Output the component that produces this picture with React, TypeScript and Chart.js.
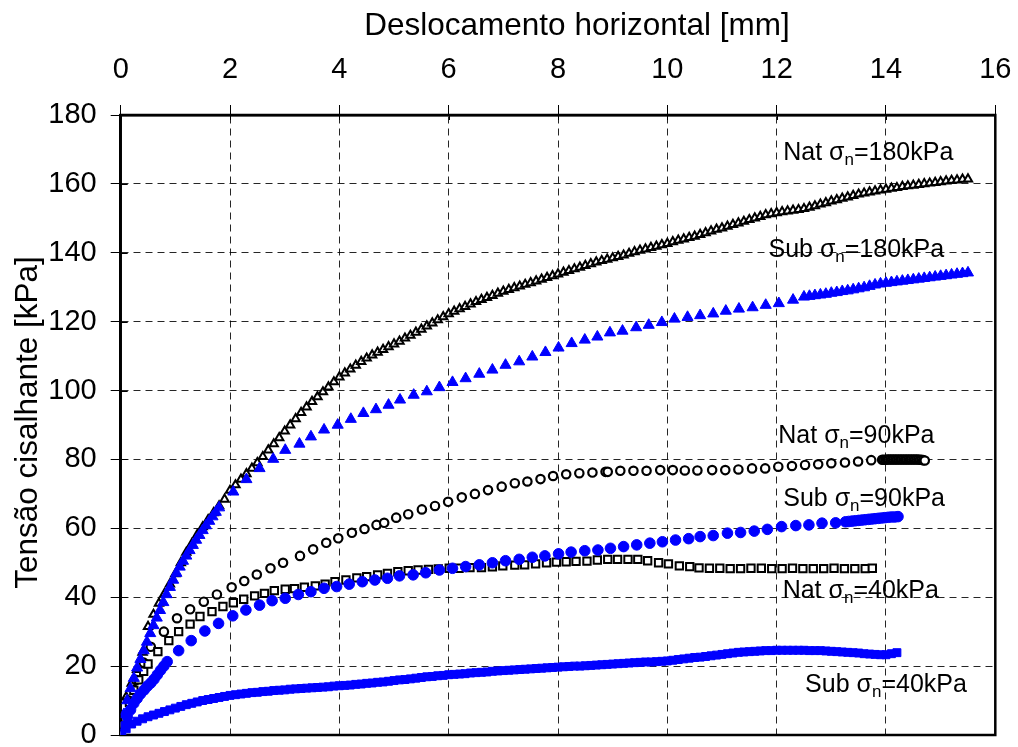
import React, { useEffect, useRef } from 'react';
import { Chart, registerables } from 'chart.js';

Chart.register(...registerables);

const FONT = '"Liberation Sans", Arial, Helvetica, sans-serif';

// ---------- data (displacement mm, shear stress kPa) ----------
const xTitle = 'Deslocamento horizontal [mm]';
const yTitle = 'Tensão cisalhante [kPa]';
const xRange = [0, 16];
const yRange = [0, 180];
const xStep = 2;
const yStep = 20;

const nat180: [number, number][] = [
  [0,0],[0.1,11],[0.2,15],[0.3,19],[0.4,24],[0.5,31.5],[0.6,35],[0.7,38.2],[0.8,41],[0.9,43.8],
  [1,46.8],[1.1,50],[1.2,53],[1.3,55.5],[1.4,58.1],[1.5,60.4],[1.6,62.5],[1.7,64.5],[1.8,66.5],[1.9,68.4],
  [2,71],[2.1,72.6],[2.2,74.2],[2.3,75.8],[2.4,77.4],[2.5,79],[2.6,80.8],[2.7,82.7],[2.8,84.5],[2.9,86.3],
  [3,88.2],[3.1,90],[3.2,91.8],[3.3,93.6],[3.4,95.2],[3.5,96.8],[3.6,98.2],[3.7,99.6],[3.8,101],[3.9,102.5],
  [4,103.9],[4.1,105.1],[4.2,106.2],[4.3,107.3],[4.4,108.4],[4.5,109.4],[4.6,110.3],[4.7,111.1],[4.8,111.9],[4.9,112.7],
  [5,113.5],[5.1,114.3],[5.2,115.2],[5.3,116],[5.4,116.9],[5.5,117.8],[5.6,118.7],[5.7,119.6],[5.8,120.5],[5.9,121.4],
  [6,122.3],[6.1,123],[6.2,123.7],[6.3,124.4],[6.4,125.1],[6.5,125.8],[6.6,126.4],[6.7,127],[6.8,127.6],[6.9,128.2],
  [7,128.8],[7.1,129.3],[7.2,129.8],[7.3,130.3],[7.4,130.8],[7.5,131.3],[7.6,131.8],[7.7,132.3],[7.8,132.8],[7.9,133.3],
  [8,133.8],[8.1,134.3],[8.2,134.8],[8.3,135.3],[8.4,135.8],[8.5,136.3],[8.6,136.8],[8.7,137.3],[8.8,137.7],[8.9,138.1],
  [9,138.5],[9.1,138.9],[9.2,139.3],[9.3,139.8],[9.4,140.3],[9.5,140.7],[9.6,141.1],[9.7,141.5],[9.8,141.9],[9.9,142.3],
  [10,142.7],[10.1,143.2],[10.2,143.6],[10.3,144],[10.4,144.4],[10.5,144.8],[10.6,145.3],[10.7,145.8],[10.8,146.3],[10.9,146.8],
  [11,147.2],[11.1,147.7],[11.2,148.2],[11.3,148.6],[11.4,149.1],[11.5,149.6],[11.6,150.1],[11.7,150.5],[11.8,151],[11.9,151.3],
  [12,151.6],[12.1,151.9],[12.2,152.1],[12.3,152.3],[12.4,152.5],[12.5,152.8],[12.6,153.2],[12.7,153.6],[12.8,154.1],[12.9,154.5],
  [13,155],[13.1,155.4],[13.2,155.8],[13.3,156.2],[13.4,156.6],[13.5,157],[13.6,157.3],[13.7,157.6],[13.8,157.9],[13.9,158.2],
  [14,158.4],[14.1,158.7],[14.2,158.9],[14.3,159.2],[14.4,159.4],[14.5,159.6],[14.6,159.8],[14.7,160],[14.8,160.2],[14.9,160.4],
  [15,160.6],[15.1,160.8],[15.2,161],[15.3,161.1],[15.4,161.3],[15.5,161.4],
];

const sub180: [number, number][] = [
  [0,0],[0.06,6],[0.12,10],[0.18,13.5],[0.24,16.5],[0.3,19.5],[0.36,22],[0.42,24.5],[0.48,27],[0.54,29.5],
  [0.6,31.8],[0.66,34],[0.72,36.2],[0.78,38.5],[0.84,40.8],[0.9,42.9],[0.96,45],[1.02,47],[1.08,48.8],[1.14,50.5],
  [1.2,52],[1.26,53.6],[1.32,55.1],[1.38,56.6],[1.44,58],[1.5,59.4],[1.56,60.8],[1.62,62.1],[1.68,63.4],[1.74,64.7],[1.8,66],
  [2.06,70.6],[2.3,74.2],[2.54,77.4],[2.79,80.1],[3.01,82.7],[3.27,84.5],[3.48,86.6],[3.72,88.6],[3.97,90],[4.21,91.7],
  [4.44,93.4],[4.67,94.5],[4.9,95.8],[5.11,97.3],[5.36,98.7],[5.6,99.7],[5.83,100.9],[6.07,102.4],[6.31,103.5],[6.56,104.8],
  [6.8,106],[7.04,107.4],[7.29,108.4],[7.53,109.8],[7.77,111.1],[8.01,112.4],[8.25,113.7],[8.49,114.7],[8.72,115.6],[8.95,116.8],
  [9.18,117.3],[9.43,118.3],[9.66,119],[9.9,119.8],[10.13,120.8],[10.37,121.3],[10.6,121.8],[10.84,122.3],[11.07,123.1],[11.31,123.7],
  [11.56,124.1],[11.8,124.8],[12.04,125.3],[12.3,126.3],
  [12.5,127.2],[12.6,127.4],[12.7,127.6],[12.8,127.8],[12.9,128],[13,128.3],[13.1,128.5],[13.2,128.8],[13.3,129],[13.4,129.3],
  [13.5,129.6],[13.6,129.9],[13.7,130.3],[13.8,130.7],[13.9,131],[14,131.2],[14.1,131.4],[14.2,131.6],[14.3,131.8],[14.4,132],
  [14.5,132.2],[14.6,132.4],[14.7,132.6],[14.8,132.8],[14.9,133],[15,133.2],[15.1,133.4],[15.2,133.6],[15.3,133.8],[15.4,134],[15.5,134.2],
];

const nat90: [number, number][] = [
  [0,0],[0.05,3],[0.15,10],[0.28,16],[0.42,21],[0.55,25.6],[0.79,30],[1.03,33.9],[1.27,36.5],[1.52,38.7],
  [1.76,40.8],[2.03,42.9],[2.26,44.7],[2.49,46.6],[2.74,48.4],[2.97,50],[3.28,52],[3.52,53.9],[3.76,55.8],[3.98,57.1],
  [4.23,58.7],[4.46,59.8],[4.68,61],[4.82,61.6],[5.04,63.1],[5.26,64.1],[5.51,65.5],[5.75,66.5],[5.99,67.7],[6.24,69],
  [6.48,70],[6.72,71.1],[6.97,72.1],[7.21,73.1],[7.44,73.6],[7.68,74.3],[7.91,75.2],[8.15,75.7],[8.39,76],[8.63,76.2],
  [8.87,76.4],[8.91,76.4],[9.14,76.7],[9.38,76.7],[9.62,76.7],[9.87,76.9],[10.1,76.9],[10.32,76.8],[10.55,76.8],[10.82,76.9],
  [11.06,76.9],[11.3,77.1],[11.55,77.4],[11.79,77.4],[12.03,77.9],[12.28,78.1],[12.52,78.4],[12.76,78.6],[13,78.9],[13.25,79.1],
  [13.49,79.4],[13.73,79.8],[13.93,79.9],[13.96,79.9],[13.99,79.9],[14.02,80],[14.05,80],[14.08,80],[14.11,80],[14.14,80],
  [14.17,80],[14.2,80],[14.23,80],[14.26,80],[14.29,80],[14.32,80],[14.35,80],[14.38,80],[14.41,80],[14.44,80],
  [14.47,80],[14.5,80],[14.53,80],[14.56,80],[14.59,80],[14.62,79.9],[14.65,79.9],[14.68,79.8],[14.71,79.7],
];

const sub90: [number, number][] = [
  [0,0],[0.06,2.5],[0.12,5.3],[0.18,7.3],[0.24,9.2],[0.3,10.6],[0.36,11.9],[0.43,13.1],[0.49,14.2],[0.55,15.1],
  [0.61,16.2],[0.67,17.5],[0.73,18.8],[0.79,20],[0.85,21.3],
  [1.06,24.5],[1.29,27.4],[1.54,30.2],[1.79,32.4],[2.05,34.6],[2.29,36.3],[2.54,37.7],[2.77,39],[3.01,39.7],[3.25,40.8],
  [3.48,41.6],[3.72,42.6],[3.95,43.1],[4.18,43.8],[4.42,44.5],[4.65,45],[4.88,45.5],[5.1,46.2],[5.35,46.5],[5.58,47.1],
  [5.83,47.9],[6.07,48.4],[6.31,48.9],[6.56,49.4],[6.8,50],[7.04,50.6],[7.29,51],[7.53,51.6],[7.76,52],[8.01,52.6],
  [8.24,53.1],[8.49,53.5],[8.73,53.7],[8.96,54.2],[9.2,54.7],[9.44,55.2],[9.68,55.7],[9.91,56.1],[10.15,56.6],[10.39,57],
  [10.6,57.6],[10.84,57.9],[11.1,58.6],[11.34,58.8],[11.59,59.2],[11.83,59.7],[12.09,60.5],[12.35,60.8],[12.59,61],[12.83,61.5],
  [13.08,61.6],[13.26,61.9],[13.32,62],[13.38,62.1],[13.44,62.2],[13.5,62.3],[13.56,62.4],[13.62,62.5],[13.68,62.6],[13.74,62.7],
  [13.8,62.8],[13.86,62.9],[13.92,63],[13.98,63.1],[14.04,63.2],[14.1,63.3],[14.16,63.3],[14.22,63.4],
];

const nat40: [number, number][] = [
  [0,0],[0.08,5],[0.16,9.5],[0.24,13],[0.33,16],[0.42,18.5],[0.5,20.6],[0.68,24.2],[0.88,27.4],[1.06,30],
  [1.27,32.2],[1.45,34.4],[1.67,35.8],[1.87,37.3],[2.06,38.4],[2.25,39.4],[2.45,40.4],[2.63,41.1],[2.81,41.9],[3.01,42.3],
  [3.18,42.5],[3.36,42.9],[3.56,43.3],[3.74,43.8],[3.92,44.5],[4.12,45],[4.32,45.6],[4.5,46],[4.7,46.5],[4.88,46.9],
  [5.07,47.4],[5.26,47.7],[5.44,47.9],[5.63,48.1],[5.81,48.2],[6.01,48.4],[6.19,48.4],[6.39,48.6],[6.6,48.6],[6.8,48.8],
  [6.99,49.1],[7.21,49.3],[7.39,49.4],[7.59,49.7],[7.79,50],[7.97,50.2],[8.15,50.3],[8.33,50.4],[8.53,50.5],[8.72,50.8],
  [8.91,51],[9.09,51],[9.28,51],[9.46,51],[9.64,50.6],[9.84,50],[10.02,49.7],[10.22,49.1],[10.41,48.9],[10.58,48.5],
  [10.77,48.4],[10.96,48.4],[11.15,48.3],[11.34,48.3],[11.53,48.4],[11.72,48.4],[11.91,48.3],[12.1,48.3],[12.29,48.4],[12.48,48.3],
  [12.67,48.3],[12.86,48.3],[13.05,48.4],[13.24,48.3],[13.43,48.3],[13.62,48.3],[13.75,48.4],
];

const sub40: [number, number][] = [
  [0,0],[0.1,1.8],[0.2,3.2],[0.3,4],[0.4,4.7],[0.5,5.3],[0.6,5.8],[0.7,6.3],[0.8,6.8],[0.9,7.3],
  [1,7.8],[1.1,8.3],[1.2,8.8],[1.3,9.2],[1.4,9.6],[1.5,10],[1.6,10.3],[1.7,10.6],[1.8,10.9],[1.9,11.2],
  [2,11.5],[2.1,11.7],[2.2,11.9],[2.3,12.1],[2.4,12.3],[2.5,12.4],[2.6,12.6],[2.7,12.7],[2.8,12.9],[2.9,13],
  [3,13.1],[3.1,13.3],[3.2,13.4],[3.3,13.5],[3.4,13.6],[3.5,13.7],[3.6,13.8],[3.7,13.9],[3.8,14],[3.9,14.2],
  [4,14.3],[4.1,14.4],[4.2,14.5],[4.3,14.7],[4.4,14.8],[4.5,15],[4.6,15.1],[4.7,15.3],[4.8,15.4],[4.9,15.6],
  [5,15.8],[5.1,16],[5.2,16.1],[5.3,16.3],[5.4,16.5],[5.5,16.7],[5.6,16.9],[5.7,17],[5.8,17.2],[5.9,17.3],
  [6,17.5],[6.1,17.6],[6.2,17.7],[6.3,17.8],[6.4,18],[6.5,18.1],[6.6,18.2],[6.7,18.3],[6.8,18.5],[6.9,18.6],
  [7,18.7],[7.1,18.8],[7.2,18.9],[7.3,19],[7.4,19.1],[7.5,19.2],[7.6,19.3],[7.7,19.4],[7.8,19.5],[7.9,19.6],
  [8,19.7],[8.1,19.8],[8.2,19.9],[8.3,20],[8.4,20],[8.5,20.1],[8.6,20.2],[8.7,20.3],[8.8,20.4],[8.9,20.5],
  [9,20.6],[9.1,20.7],[9.2,20.8],[9.3,20.9],[9.4,21],[9.5,21.1],[9.6,21.2],[9.7,21.2],[9.8,21.3],[9.9,21.4],
  [10,21.5],[10.1,21.7],[10.2,21.9],[10.3,22.1],[10.4,22.3],[10.5,22.5],[10.6,22.6],[10.7,22.8],[10.8,23],[10.9,23.2],
  [11,23.4],[11.1,23.6],[11.2,23.8],[11.3,24],[11.4,24.1],[11.5,24.2],[11.6,24.3],[11.7,24.4],[11.8,24.5],[11.9,24.5],
  [12,24.6],[12.1,24.6],[12.2,24.6],[12.3,24.6],[12.4,24.6],[12.5,24.6],[12.6,24.5],[12.7,24.5],[12.8,24.5],[12.9,24.4],
  [13,24.3],[13.1,24.2],[13.2,24.1],[13.3,24],[13.4,23.9],[13.5,23.8],[13.6,23.6],[13.7,23.5],[13.8,23.4],[13.9,23.3],
  [14,23.3],[14.1,23.6],[14.2,23.9],
];

// series annotations: prefix + subscript + suffix
const labelTexts = [
  ['Nat σ', 'n', '=180kPa'],
  ['Sub σ', 'n', '=180kPa'],
  ['Nat σ', 'n', '=90kPa'],
  ['Sub σ', 'n', '=90kPa'],
  ['Nat σ', 'n', '=40kPa'],
  ['Sub σ', 'n', '=40kPa'],
];

// ---------- layout / style ----------
const W = 1018;
const H = 747;
const AREA = { left: 120.7, top: 115, right: 995.3, bottom: 735 };
const labelAnchors = [
  { x: 12.12, y: 166.9 },
  { x: 11.85, y: 138.9 },
  { x: 12.03, y: 84.7 },
  { x: 12.12, y: 66.5 },
  { x: 12.11, y: 39.7 },
  { x: 12.52, y: 12.6 },
];

const toXY = (arr: [number, number][]) => arr.map(([x, y]) => ({ x, y }));

const decorPlugin = {
  id: 'decor',
  beforeDatasetsDraw(chart: any) {
    const { ctx, chartArea: a, scales } = chart;
    ctx.save();
    ctx.strokeStyle = '#000';
    ctx.lineWidth = 1;
    ctx.beginPath();
    for (let v = yRange[0]; v <= yRange[1]; v += yStep) {
      const py = Math.round(scales.y.getPixelForValue(v)) + 0.5;
      ctx.moveTo(a.left, py);
      ctx.lineTo(a.left + 7, py);
    }
    for (let v = xRange[0]; v <= xRange[1]; v += xStep) {
      const px = Math.round(scales.x.getPixelForValue(v)) + 0.5;
      ctx.moveTo(px, a.top);
      ctx.lineTo(px, a.top + 5);
    }
    ctx.stroke();
    ctx.lineWidth = 2.5;
    ctx.strokeRect(a.left, a.top, a.right - a.left, a.bottom - a.top);
    ctx.restore();
  },
  afterDatasetsDraw(chart: any) {
    const { ctx, scales } = chart;
    ctx.save();
    ctx.fillStyle = '#000';
    ctx.textAlign = 'left';
    ctx.textBaseline = 'alphabetic';
    labelTexts.forEach((t, i) => {
      const x = scales.x.getPixelForValue(labelAnchors[i].x);
      const y = scales.y.getPixelForValue(labelAnchors[i].y);
      ctx.font = `25px ${FONT}`;
      ctx.fillText(t[0], x, y);
      let w = ctx.measureText(t[0]).width;
      ctx.font = `17px ${FONT}`;
      ctx.fillText(t[1], x + w, y + 5);
      w += ctx.measureText(t[1]).width;
      ctx.font = `25px ${FONT}`;
      ctx.fillText(t[2], x + w, y);
    });
    // axis titles
    ctx.font = `31.5px ${FONT}`;
    ctx.textAlign = 'center';
    ctx.fillText(xTitle, 577, 35);
    ctx.translate(37, 422.5);
    ctx.rotate(-Math.PI / 2);
    ctx.fillText(yTitle, 0, 0);
    ctx.restore();
  },
};

const openStyle = { backgroundColor: '#ffffff', borderColor: '#000000' };
const blueStyle = { backgroundColor: '#0000ff', borderColor: '#0000ff' };

export default function App() {
  const ref = useRef<HTMLCanvasElement>(null);
  useEffect(() => {
    document.body.style.margin = '0';
    const chart = new Chart(ref.current as HTMLCanvasElement, {
      type: 'scatter',
      data: {
        datasets: [
          { label: 'Sub σn=40kPa', data: toXY(sub40), pointStyle: 'rect', pointRadius: 5.6, borderWidth: 1, ...blueStyle, order: 0 },
          { label: 'Sub σn=90kPa', data: toXY(sub90), pointStyle: 'circle', pointRadius: 5.3, borderWidth: 1, ...blueStyle, order: 0 },
          { label: 'Sub σn=180kPa', data: toXY(sub180), pointStyle: 'triangle', pointRadius: 6.4, borderWidth: 1, ...blueStyle, order: 0 },
          { label: 'Nat σn=40kPa', data: toXY(nat40), pointStyle: 'rect', pointRadius: 5.2, borderWidth: 2, ...openStyle, order: 1 },
          { label: 'Nat σn=90kPa', data: toXY(nat90), pointStyle: 'circle', pointRadius: 4.2, borderWidth: 2.2, ...openStyle, order: 1 },
          { label: 'Nat σn=180kPa', data: toXY(nat180), pointStyle: 'triangle', pointRadius: 4.8, borderWidth: 2, ...openStyle, order: 1 },
        ] as any,
      },
      options: {
        animation: false,
        responsive: false,
        devicePixelRatio: 1,
        layout: { autoPadding: false, padding: { left: 0, top: 0, right: W - AREA.right, bottom: H - AREA.bottom } },
        plugins: { legend: { display: false }, tooltip: { enabled: false } },
        elements: { point: { hoverRadius: 0 } },
        scales: {
          x: {
            type: 'linear',
            position: 'top',
            min: xRange[0],
            max: xRange[1],
            afterFit: (s: any) => { s.height = AREA.top; s.paddingLeft = 0; s.paddingRight = 0; },
            ticks: { stepSize: xStep, autoSkip: false, maxRotation: 0, color: '#000', padding: 18, font: { family: FONT, size: 29 } },
            grid: { color: 'rgba(0,0,0,0.85)', lineWidth: 1, tickLength: 10, tickColor: '#000', tickWidth: 1, tickBorderDash: [] },
            border: { display: true, color: '#000', width: 2.5, dash: [7, 5] },
          },
          y: {
            type: 'linear',
            position: 'left',
            min: yRange[0],
            max: yRange[1],
            afterFit: (s: any) => { s.width = AREA.left; s.paddingTop = 0; s.paddingBottom = 0; },
            ticks: { stepSize: yStep, autoSkip: false, color: '#000', padding: 14, font: { family: FONT, size: 29, lineHeight: 0.8 } },
            grid: { color: 'rgba(0,0,0,0.85)', lineWidth: 1, tickLength: 10, tickColor: '#000', tickWidth: 1, tickBorderDash: [] },
            border: { display: true, color: '#000', width: 2.5, dash: [7, 5] },
          },
        },
      },
      plugins: [decorPlugin],
    } as any);
    return () => chart.destroy();
  }, []);
  return (
    <div style={{ position: 'fixed', left: 0, top: 0, width: W, height: H, background: '#fff' }}>
      <canvas ref={ref} width={W} height={H} style={{ display: 'block', width: W, height: H }} />
    </div>
  );
}
